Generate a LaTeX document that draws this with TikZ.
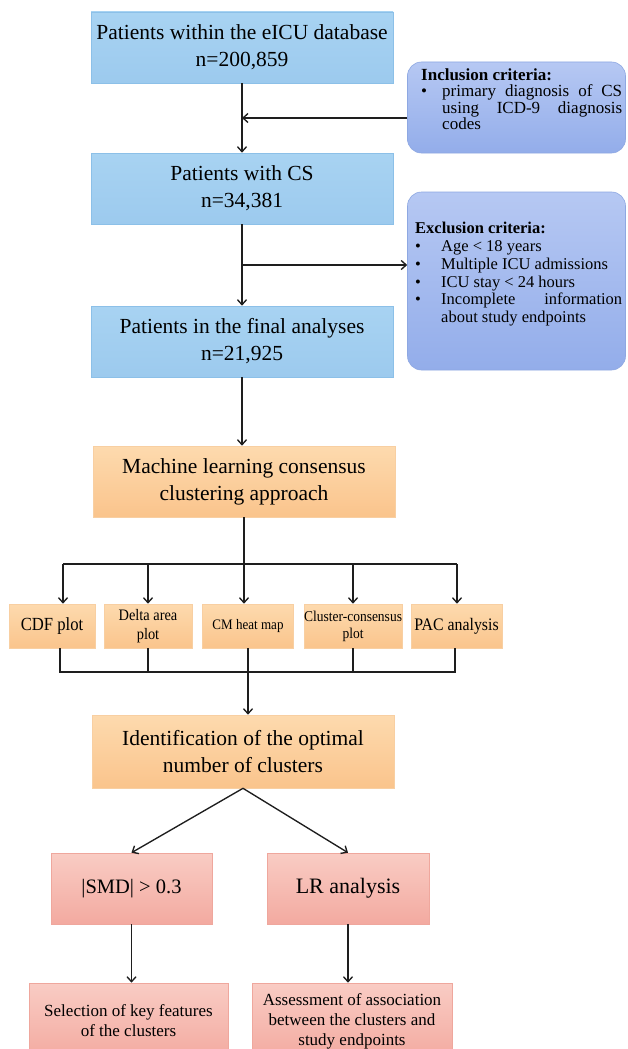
\documentclass[tikz,border=0pt]{standalone}
\usepackage{fontspec}
\setmainfont{Liberation Serif}
\newfontfamily\condA[FakeStretch=0.9]{Liberation Serif}
\usetikzlibrary{arrows.meta}
\definecolor{bluetop}{HTML}{A8D3F2}
\definecolor{bluebot}{HTML}{9CCAEE}
\definecolor{bluebd}{HTML}{8CC0E8}
\definecolor{crittop}{HTML}{B6C8F3}
\definecolor{critbot}{HTML}{93ADEA}
\definecolor{critbd}{HTML}{8EA8E2}
\definecolor{ortop}{HTML}{FDDAAE}
\definecolor{orbot}{HTML}{FAC48C}
\definecolor{orbd}{HTML}{F8CFA2}
\definecolor{pktop}{HTML}{F9CCC4}
\definecolor{pkbot}{HTML}{F3AAA0}
\definecolor{pkbd}{HTML}{EFA79D}
\definecolor{linec}{HTML}{1E1E1E}
\newcommand{\critem}[1]{\par\hangindent=#1\relax\hangafter=1\relax\noindent\makebox[#1][l]{\textbullet}\ignorespaces}
\newcommand{\nohyph}{\hyphenpenalty=10000\relax\exhyphenpenalty=10000\relax}
\begin{document}
\begin{tikzpicture}[x=1pt,y=-1pt,
  base/.style={inner sep=0pt, align=center, line width=0.6pt},
  bluebox/.style={base, draw=bluebd, top color=bluetop, bottom color=bluebot, minimum width=302pt, minimum height=71pt, font=\fontsize{21.5}{27}\selectfont},
  critbox/.style={draw=critbd, line width=0.6pt, top color=crittop, bottom color=critbot, rounded corners=14pt, inner sep=0pt},
  crittext/.style={inner sep=0pt, align=justify, anchor=north west},
  orbox/.style={base, draw=orbd, top color=ortop, bottom color=orbot},
  pkbox/.style={base, draw=pkbd, top color=pktop, bottom color=pkbot},
  conn/.style={line width=1.35pt, draw=linec},
  arr/.style={conn, -{Straight Barb[length=5pt,width=9pt]}},
]
\useasboundingbox (0,0) rectangle (627,1049);
\clip (0,0) rectangle (627,1049);
\fill[white] (0,0) rectangle (627,1049);

% main column
\node[bluebox] (b1) at (242,47.5) {Patients within the eICU database\\n=200,859};
\node[bluebox] (b2) at (242,188.5) {Patients with CS\\n=34,381};
\node[bluebox] (b3) at (242,341.5) {Patients in the final analyses\\n=21,925};

% criteria
\node[critbox, minimum width=218pt, minimum height=91pt] (incl) at (516.5,107.5) {};
\node[crittext, text width=201pt, font=\fontsize{17}{16.3}\selectfont] (incltxt) at (421,68.5)
  {\nohyph\textbf{Inclusion criteria:}\critem{21pt}primary diagnosis of CS using ICD-9 diagnosis codes\par};
\node[critbox, minimum width=218pt, minimum height=178pt] (excl) at (516.5,281) {};
\node[crittext, text width=207pt, font=\fontsize{16.5}{17.8}\selectfont] (excltxt) at (415,222)
  {\nohyph\textbf{Exclusion criteria:}\critem{26pt}Age < 18 years\critem{26pt}Multiple ICU admissions\critem{26pt}ICU stay < 24 hours\critem{26pt}Incomplete information\linebreak about study endpoints\par};

% clustering
\node[orbox, minimum width=302pt, minimum height=71pt, font=\fontsize{21.5}{27}\selectfont] (ml) at (244,481.5) {Machine learning consensus\\clustering approach};

\node[orbox, minimum width=86pt, minimum height=44pt, font=\condA\fontsize{18.5}{20}\selectfont] (cdf) at (52,626) {CDF plot};
\node[orbox, minimum width=88pt, minimum height=44pt, font=\condA\fontsize{16}{19}\selectfont] (delta) at (148,626) {Delta area\\plot};
\node[orbox, minimum width=91pt, minimum height=44pt, font=\condA\fontsize{14.5}{18}\selectfont] (cm) at (248,626) {CM heat map};
\node[orbox, minimum width=92pt, minimum height=44pt, font=\condA\fontsize{15}{17}\selectfont] (clus) at (353,626) {Cluster-consensus\\plot};
\node[orbox, minimum width=91pt, minimum height=44pt, font=\condA\fontsize{17.6}{20}\selectfont] (pac) at (456.5,626) {PAC analysis};

\node[orbox, minimum width=302pt, minimum height=73pt, font=\fontsize{21.5}{27}\selectfont] (ident) at (243,751.5) {Identification of the optimal\\number of clusters};

% results
\node[pkbox, minimum width=161pt, minimum height=71pt, font=\fontsize{20.5}{24}\selectfont] (smd) at (131.5,888.5) {|SMD| > 0.3};
\node[pkbox, minimum width=162pt, minimum height=71pt, font=\fontsize{22}{24}\selectfont] (lr) at (348,888.5) {LR analysis};
\node[pkbox, minimum width=199pt, minimum height=76pt, font=\fontsize{17}{20}\selectfont] (sel) at (128.5,1021) {Selection of key features\\of the clusters};
\node[pkbox, minimum width=200pt, minimum height=76pt, font=\fontsize{17}{20}\selectfont] (assess) at (352,1021) {Assessment of association\\between the clusters and\\study endpoints};

% connectors
\coordinate (j1) at (242,118);
\coordinate (j2) at (242,265);
\draw[arr] (b1.south) -- (b2.north);
\draw[arr] (incl.west |- j1) -- (j1);
\draw[arr] (b2.south) -- (b3.north);
\draw[arr] (j2) -- (excl.west |- j2);
\draw[arr] (b3.south) -- (b3.south |- ml.north);

\coordinate (tl) at (63,564);
\coordinate (tr) at (457,564);
\draw[conn] (tl) -- (tr);
\draw[arr] (ml.south) -- (ml.south |- cm.north);
\draw[arr] (tl) -- (tl |- cdf.north);
\draw[arr] (delta.north |- tl) -- (delta.north);
\draw[arr] (clus.north |- tl) -- (clus.north);
\draw[arr] (tr) -- (tr |- pac.north);

\coordinate (bl) at (60,672);
\coordinate (br) at (455,672);
\draw[conn] (bl |- cdf.south) -- (bl) -- (br) -- (br |- pac.south);
\draw[conn] (delta.south) -- (delta.south |- bl);
\draw[conn] (clus.south) -- (clus.south |- bl);
\draw[arr] (cm.south) -- (cm.south |- ident.north);

\draw[arr] (ident.south) -- (smd.north);
\draw[arr] (ident.south) -- (lr.north);
\draw[arr] (smd.south) -- (smd.south |- sel.north);
\draw[arr] (lr.south) -- (lr.south |- assess.north);
\end{tikzpicture}
\end{document}
